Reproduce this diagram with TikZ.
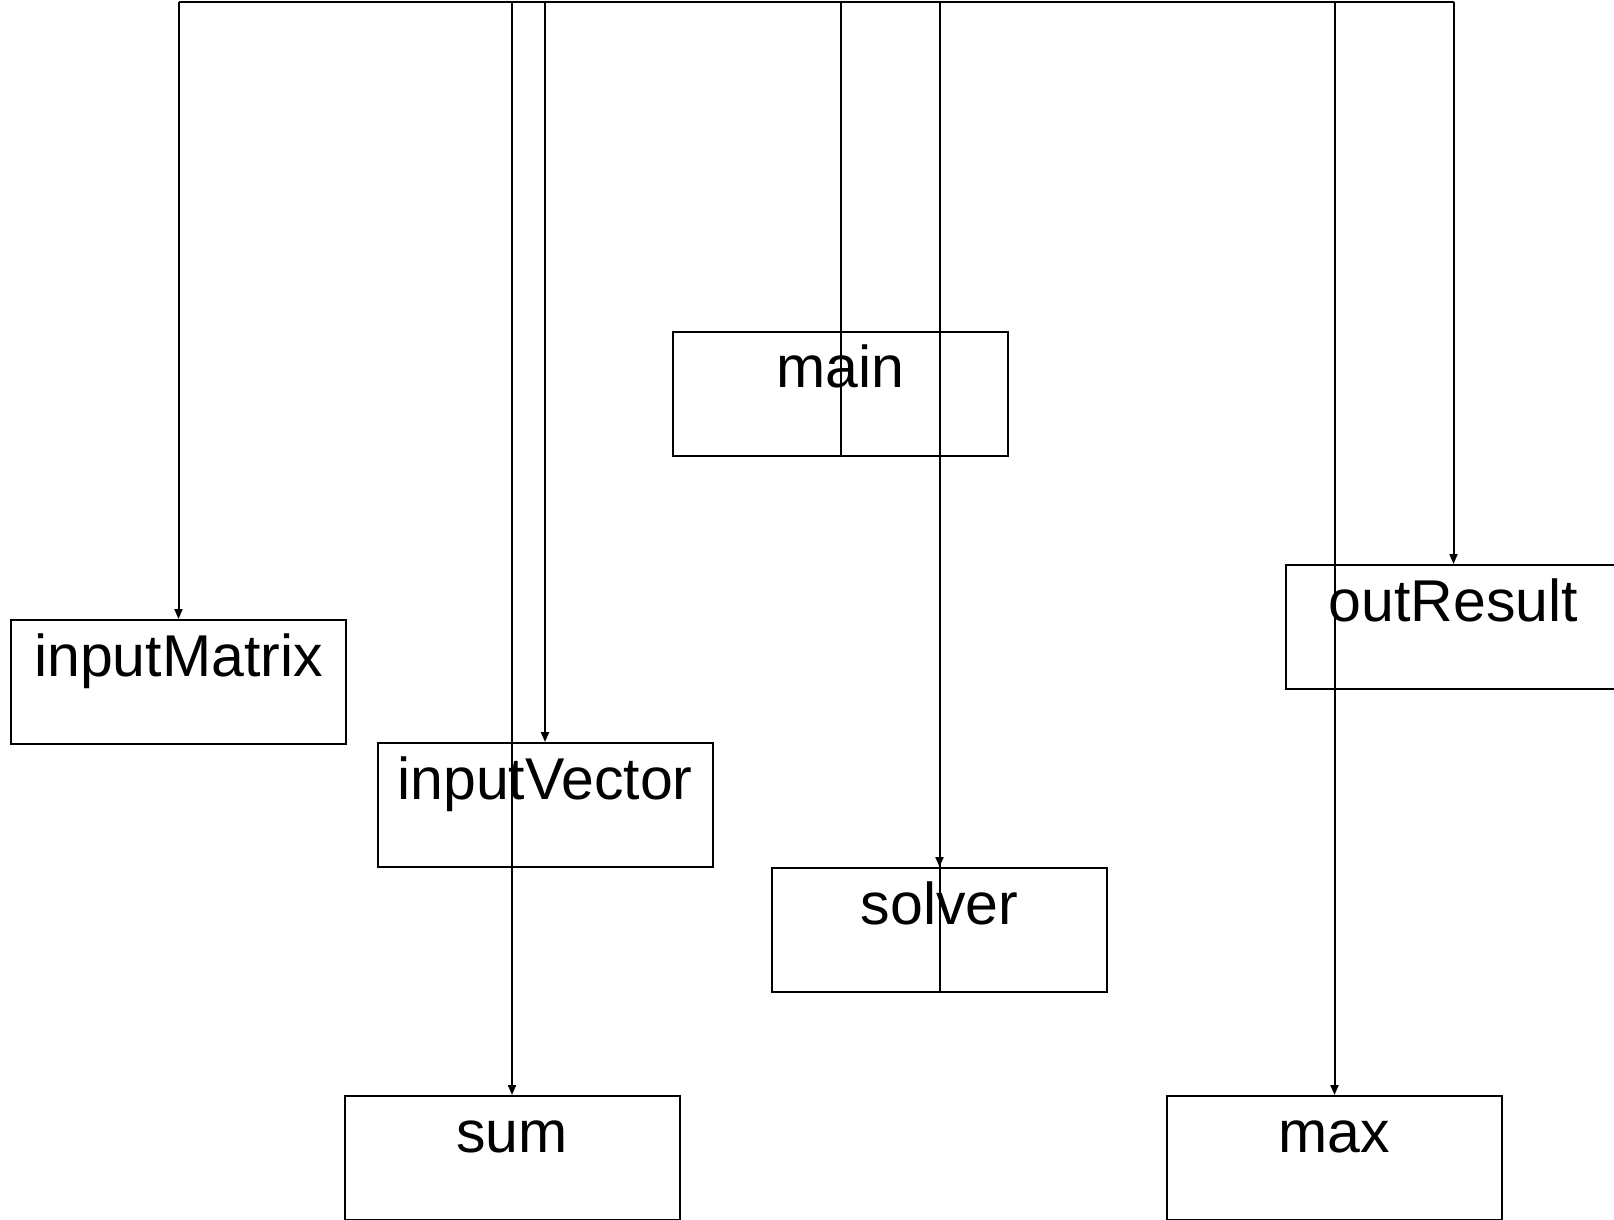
\documentclass[tikz,border=0pt]{standalone}
\usepackage{fontspec}
\setmainfont{Liberation Sans}
\usetikzlibrary{arrows.meta}

\begin{document}
\begin{tikzpicture}[x=1pt,y=-1pt,
  line width=2pt,
  modbox/.style={draw, rectangle, inner sep=0pt, anchor=north,
    minimum width=335pt, text height=56pt, text depth=68pt,
    font=\fontsize{59}{70}\selectfont},
  call/.style={-{Triangle[length=10pt,width=8pt]}}]
  \useasboundingbox (0,0) rectangle (1614,1219);

  % modules
  \node[modbox] (main)        at (840.5, 330.5) {main};
  \node[modbox] (inputMatrix) at (178.5, 619)   {inputMatrix};
  \node[modbox] (inputVector) at (545,   742)   {inputVector};
  \node[modbox] (solver)      at (939.5, 867)   {solver};
  \node[modbox] (outResult)   at (1453.5,564)   {outResult};
  \node[modbox] (sum)         at (512,   1095)  {sum};
  \node[modbox] (max)         at (1334.5,1095)  {max};

  % shared bus along the top
  \coordinate (bus) at (0,2);
  \draw (inputMatrix.north |- bus) -- (outResult.north |- bus);

  % callers rise to the bus
  \draw (main.south)   -- (main.south |- bus);
  \draw (solver.south) -- (solver.south |- bus);

  % calls drop from the bus
  \foreach \m in {inputMatrix,inputVector,solver,outResult,sum,max}
    \draw[call] (\m.north |- bus) -- (\m.north);
\end{tikzpicture}
\end{document}
